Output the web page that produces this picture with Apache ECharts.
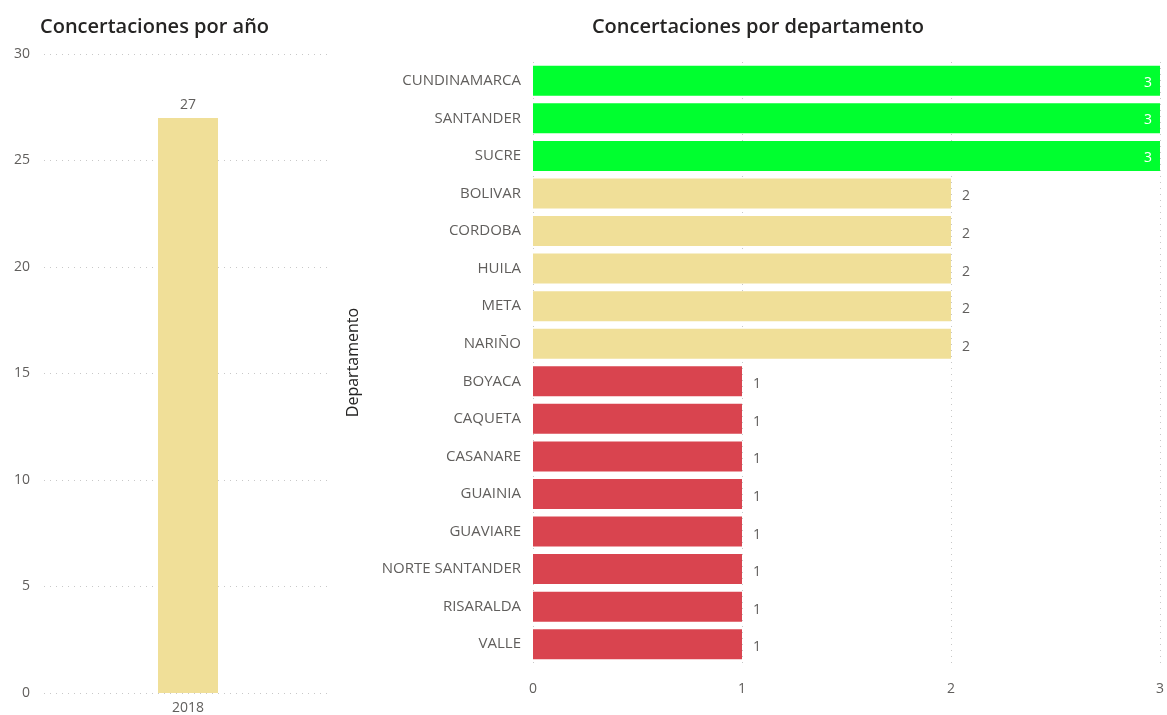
<!DOCTYPE html>
<html><head><meta charset="utf-8">
<script src="https://cdn.jsdelivr.net/npm/echarts@6/dist/echarts.min.js"></script>
<style>html,body{margin:0;padding:0;background:#fff}#c{width:1167px;height:715px}</style>
</head><body><div id="c"></div>
<script>
const years = ['2018'];
const yearValues = [27];
const yearTicks = [0, 5, 10, 15, 20, 25, 30];
const departments = ['CUNDINAMARCA','SANTANDER','SUCRE','BOLIVAR','CORDOBA','HUILA','META','NARIÑO','BOYACA','CAQUETA','CASANARE','GUAINIA','GUAVIARE','NORTE SANTANDER','RISARALDA','VALLE'];
const deptValues = [3,3,3,2,2,2,2,2,1,1,1,1,1,1,1,1];
const deptTicks = [0, 1, 2, 3];

const colorFor = v => v >= 3 ? '#00FF2F' : (v >= 2 ? '#F0DF98' : '#D9444F');
const font = 'Open Sans';
const gridLine = {show: true, lineStyle: {type: [1, 5], color: '#C8C8C8', width: 1}};

const chart = echarts.init(document.getElementById('c'));
chart.setOption({
  animation: false,
  textStyle: {fontFamily: font},
  title: [
    {text: 'Concertaciones por año', left: 35, top: 12, textStyle: {fontSize: 20, fontWeight: 600, color: '#252423', fontFamily: font}},
    {text: 'Concertaciones por departamento', left: 753, textAlign: 'center', top: 12, textStyle: {fontSize: 20, fontWeight: 600, color: '#252423', fontFamily: font}}
  ],
  grid: [
    {left: 44, right: 835, top: 54, bottom: 22},
    {left: 533, right: 7, top: 62, bottom: 52}
  ],
  xAxis: [
    {gridIndex: 0, type: 'category', data: years, axisLine: {show: false}, axisTick: {show: false},
     axisLabel: {color: '#605E5C', fontSize: 14, margin: 8}},
    {gridIndex: 1, type: 'value', min: deptTicks[0], max: deptTicks[deptTicks.length-1], interval: 1,
     axisLine: {show: false}, axisTick: {show: false}, splitLine: gridLine,
     axisLabel: {color: '#605E5C', fontSize: 14, margin: 19}}
  ],
  yAxis: [
    {gridIndex: 0, type: 'value', min: yearTicks[0], max: yearTicks[yearTicks.length-1], interval: 5,
     axisLine: {show: false}, axisTick: {show: false}, splitLine: gridLine,
     axisLabel: {color: '#605E5C', fontSize: 14, margin: 14}},
    {gridIndex: 1, type: 'category', data: departments, inverse: true,
     axisLine: {show: false}, axisTick: {show: false},
     axisLabel: {color: '#605E5C', fontSize: 15, margin: 12, padding: [3, 0, 0, 0]},
     name: 'Departamento', nameLocation: 'middle', nameGap: 172, nameRotate: 90,
     nameTextStyle: {color: '#252423', fontSize: 16, fontFamily: font}}
  ],
  series: [
    {type: 'bar', xAxisIndex: 0, yAxisIndex: 0, data: yearValues, barWidth: 60,
     itemStyle: {color: '#F0DF98'},
     label: {show: true, position: 'top', color: '#605E5C', fontSize: 14, distance: 6}},
    {type: 'bar', xAxisIndex: 1, yAxisIndex: 1, barWidth: 30,
     data: deptValues.map(v => ({
       value: v,
       itemStyle: {color: colorFor(v)},
       label: v >= 3
         ? {show: true, position: 'insideRight', color: '#FFFFFF', fontSize: 14, distance: 8, offset: [0, 2]}
         : {show: true, position: 'right', color: '#605E5C', fontSize: 14, distance: 11, offset: [0, 3]}
     }))}
  ]
});
</script></body></html>
